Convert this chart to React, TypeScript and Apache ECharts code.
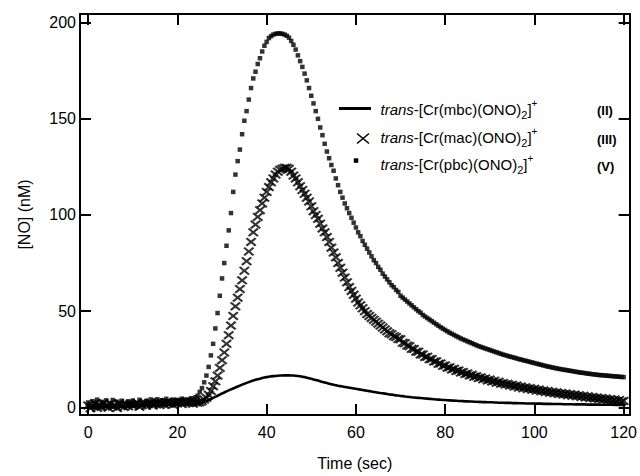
import React, { useEffect, useRef } from "react";
import * as echarts from "echarts";

// sampling grid of the recorded traces (seconds)
const T_START = 0;
const T_STEP = 0.5;

// trans-[Cr(mbc)(ONO)2]+ (II) — solid line, [NO] in nM
const mbcII = [
  0, -0.3, -0.5, -0.2, 0.1, -0.4, 0.2, -0.1, 0.3, 0,
  0.2, -0.2, 0.4, 0.1, 0.3, 0.5, 0.2, 0.4, 0.6, 0.3,
  0.5, 0.7, 0.4, 0.6, 0.8, 0.5, 0.7, 0.9, 0.6, 0.8,
  1.0, 0.8, 1.1, 0.9, 1.2, 1.0, 1.3, 1.1, 1.2, 1.4,
  1.3, 1.5, 1.4, 1.6, 1.5, 1.7, 1.6, 1.8, 1.7, 1.9,
  2.0, 2.4, 2.8, 3.3, 3.8, 4.3, 4.9, 5.4, 6.0, 6.6,
  7.2, 7.7, 8.3, 8.8, 9.3, 9.8, 10.3, 10.8, 11.3, 11.8,
  12.2, 12.7, 13.1, 13.5, 13.9, 14.3, 14.6, 14.9, 15.2, 15.5,
  15.7, 15.9, 16.1, 16.2, 16.3, 16.4, 16.5, 16.5, 16.6, 16.6,
  16.6, 16.5, 16.5, 16.4, 16.3, 16.1, 15.9, 15.7, 15.4, 15.1,
  14.8, 14.5, 14.2, 13.9, 13.5, 13.2, 12.9, 12.6, 12.3, 12.0,
  11.7, 11.5, 11.2, 11.0, 10.8, 10.6, 10.4, 10.2, 10.0, 9.8,
  9.6, 9.4, 9.2, 9.0, 8.8, 8.6, 8.4, 8.2, 8.0, 7.8,
  7.6, 7.4, 7.3, 7.1, 6.9, 6.7, 6.6, 6.4, 6.2, 6.1,
  5.9, 5.8, 5.6, 5.5, 5.4, 5.2, 5.1, 5.0, 4.9, 4.8,
  4.7, 4.6, 4.5, 4.4, 4.3, 4.2, 4.1, 4.0, 3.9, 3.8,
  3.8, 3.7, 3.6, 3.5, 3.5, 3.4, 3.3, 3.3, 3.2, 3.1,
  3.1, 3.0, 3.0, 2.9, 2.9, 2.8, 2.8, 2.7, 2.7, 2.6,
  2.6, 2.6, 2.5, 2.5, 2.4, 2.4, 2.4, 2.3, 2.3, 2.3,
  2.2, 2.2, 2.2, 2.1, 2.1, 2.1, 2.0, 2.0, 2.0, 2.0,
  1.9, 1.9, 1.9, 1.9, 1.8, 1.8, 1.8, 1.8, 1.7, 1.7,
  1.7, 1.7, 1.7, 1.6, 1.6, 1.6, 1.6, 1.6, 1.5, 1.5,
  1.5, 1.5, 1.5, 1.5, 1.4, 1.4, 1.4, 1.4, 1.4, 1.4,
  1.3, 1.3, 1.3, 1.3, 1.3, 1.3, 1.2, 1.2, 1.2, 1.2,
  1.2,
];

// trans-[Cr(mac)(ONO)2]+ (III) — × markers
const macIII = [
  1.0, -0.5, 0.8, 2.0, -0.3, 1.5, 0.2, 2.2, 0.6, -0.2,
  1.8, 0.4, 1.2, -0.4, 2.1, 0.9, 0.1, 1.6, 0.5, 1.9,
  0.7, 1.4, 2.3, 0.3, 1.1, 2.0, 0.8, 1.7, 2.5, 1.0,
  1.9, 2.6, 1.2, 2.2, 1.5, 2.8, 1.8, 2.4, 1.3, 2.7,
  2.0, 2.9, 1.7, 2.5, 3.0, 2.2, 2.8, 1.9, 2.6, 2.4,
  2.6, 3.2, 4.0, 5.0, 6.5, 8.5, 11, 13.5, 16.5, 20.5,
  24.5, 28.5, 33, 37.5, 42.5, 47.5, 52.5, 57, 61.5, 66,
  71, 76, 81, 86, 91, 95, 99, 102.5, 106, 109,
  112, 114.5, 117, 119, 121, 122.5, 123.5, 124, 124.5, 124.5,
  124, 122.5, 120.5, 119, 117, 115, 113, 111, 109, 107,
  104.5, 102, 100, 98, 95.5, 93, 91, 88.5, 86, 83,
  80.5, 78, 75, 72.5, 70, 67.5, 65, 62.5, 60.5, 58.5,
  56.5, 54.5, 53, 51.5, 50, 48.5, 47.5, 46.5, 45.5, 44.5,
  43.5, 42.5, 41.5, 40.5, 39.5, 38.5, 38, 37, 36.5, 35.5,
  35.4, 33.6, 33.3, 32.1, 31.8, 30.4, 30.3, 28.9, 28.9, 27.5,
  27.5, 26.2, 26.3, 25, 25.1, 23.8, 23.9, 22.6, 22.8, 21.6,
  21.8, 20.6, 20.8, 19.7, 20, 18.9, 19.2, 18.1, 18.4, 17.3,
  17.6, 16.6, 16.9, 15.9, 16.2, 15.2, 15.6, 14.6, 15, 14,
  14.4, 13.4, 13.8, 12.8, 13.3, 12.3, 12.7, 11.8, 12.2, 11.3,
  11.7, 10.8, 11.3, 10.3, 10.8, 9.9, 10.4, 9.5, 10, 9.1,
  9.6, 8.7, 9.2, 8.3, 8.8, 7.9, 8.5, 7.6, 8.1, 7.3,
  7.8, 6.9, 7.5, 6.6, 7.2, 6.3, 6.9, 6, 6.6, 5.7,
  6.3, 5.4, 6, 5.1, 5.7, 4.8, 5.4, 4.6, 5.1, 4.3,
  4.8, 4, 4.6, 3.7, 4.3, 3.5, 4, 3.2, 3.8, 3,
  3.3,
];

// trans-[Cr(pbc)(ONO)2]+ (V) — small squares
const pbcV = [
  2.5, 0.5, 3.2, 1.0, 4.0, 0.2, 2.8, 1.5, 3.6, 0.8,
  2.2, 3.8, 0.6, 2.9, 1.3, 3.4, 2.0, 0.9, 3.1, 1.7,
  3.5, 2.4, 1.2, 3.9, 2.7, 1.6, 3.3, 2.1, 4.1, 2.6,
  3.0, 4.2, 2.3, 3.6, 2.8, 4.4, 3.1, 2.5, 4.0, 3.4,
  3.8, 2.9, 4.5, 3.3, 4.1, 3.6, 4.7, 4.0, 5.2, 6.0,
  8, 10, 13, 16.5, 21, 27, 33, 41, 49, 58,
  67, 75, 84, 92, 101, 112, 121, 128, 134, 142,
  149, 154, 160, 166, 171, 174.5, 178.5, 181.5, 185, 188,
  190, 192, 193, 193.8, 194.2, 194.4, 194.4, 194.2, 193.8, 193.2,
  192.2, 190.5, 188.5, 186, 183, 180, 177, 173.5, 170, 166,
  162, 158, 154, 150, 145.5, 141.5, 137, 133, 129.5, 126,
  123, 119, 115.5, 112, 109, 106, 103.5, 101, 98.5, 96,
  93.5, 91, 89, 86.5, 84.5, 82.5, 80.5, 78.5, 76.5, 75,
  73, 71.5, 69.5, 68, 66.5, 65, 63.5, 62.5, 61, 60,
  58, 57, 56, 55, 54, 53, 52, 51, 50, 49.2,
  48, 47.2, 46.4, 45.6, 44.8, 44, 43.2, 42.4, 41.6, 40.9,
  40.2, 39.5, 38.8, 38.2, 37.6, 37, 36.4, 35.8, 35.3, 34.8,
  34.3, 33.8, 33.3, 32.8, 32.3, 31.8, 31.4, 31, 30.6, 30.2,
  29.8, 29.4, 29, 28.6, 28.2, 27.8, 27.4, 27.1, 26.7, 26.4,
  26.1, 25.8, 25.4, 25.1, 24.8, 24.5, 24.2, 23.9, 23.6, 23.3,
  23, 22.7, 22.4, 22.1, 21.8, 21.5, 21.2, 21, 20.7, 20.5,
  20.2, 20, 19.8, 19.6, 19.4, 19.2, 19, 18.8, 18.6, 18.4,
  18.2, 18, 17.9, 17.7, 17.5, 17.4, 17.2, 17.1, 16.9, 16.8,
  16.7, 16.6, 16.5, 16.4, 16.3, 16.2, 16.1, 16, 15.9, 15.8,
  15.7,
];

const X_TICKS = [0, 20, 40, 60, 80, 100, 120];
const Y_TICKS = [0, 50, 100, 150, 200];
const X_MIN = -1.83;
const X_MAX = 121.35;
const Y_MIN = -4;
const Y_MAX = 204.5;

const LEGEND = [
  { ligand: "mbc", label: "(II)" },
  { ligand: "mac", label: "(III)" },
  { ligand: "pbc", label: "(V)" },
];

const FONT = "'Liberation Sans', Arial, Helvetica, sans-serif";
const CROSS =
  "path://M0,1.5L1.5,0L5,3.5L8.5,0L10,1.5L6.5,5L10,8.5L8.5,10L5,6.5L1.5,10L0,8.5L3.5,5Z";

const toPairs = (vals: number[]) =>
  vals.map((v, i) => [T_START + i * T_STEP, v]);

export default function App() {
  const ref = useRef<HTMLDivElement>(null);

  useEffect(() => {
    if (!ref.current) return;
    const chart = echarts.init(ref.current, null, { renderer: "svg" });

    const axisLine = { show: true, onZero: false, lineStyle: { color: "#000", width: 2 } };
    const tick = (vals: number[]) => ({
      show: true,
      inside: true,
      length: 11,
      customValues: vals,
      lineStyle: { color: "#000", width: 2 },
    });
    const label = (vals: number[], margin: number) => ({
      show: true,
      customValues: vals,
      color: "#000",
      fontSize: 16,
      fontFamily: FONT,
      margin,
    });

    const richBase = { fontFamily: FONT, fontSize: 15, lineHeight: 22, verticalAlign: "middle", fill: "#000" };
    const rich = {
      i: { ...richBase, fontStyle: "italic" },
      n: { ...richBase },
      sub: { fontFamily: FONT, fontSize: 11, lineHeight: 11, verticalAlign: "bottom", fill: "#000" },
      sup: { fontFamily: FONT, fontSize: 10, lineHeight: 11, verticalAlign: "top", fill: "#000" },
    };
    const rowY = [109, 137.5, 164.5];

    const legendGraphics: any[] = [];
    LEGEND.forEach((item, k) => {
      legendGraphics.push({
        type: "text",
        x: 380.5,
        y: rowY[k],
        style: {
          text: `{i|trans}{n|-[Cr(${item.ligand})(ONO)}{sub|2}{n|]}{sup|+}`,
          rich,
          verticalAlign: "middle",
          align: "left",
        },
      });
      legendGraphics.push({
        type: "text",
        x: 597,
        y: rowY[k] + 1.5,
        style: {
          text: item.label,
          fontFamily: FONT,
          fontSize: 13,
          fontWeight: "bold",
          fill: "#000",
          verticalAlign: "middle",
          align: "left",
        },
      });
    });
    legendGraphics.push(
      { type: "line", shape: { x1: 339, y1: 108.5, x2: 371, y2: 108.5 }, style: { stroke: "#000", lineWidth: 3 } },
      { type: "line", shape: { x1: 357, y1: 133.5, x2: 369, y2: 143.5 }, style: { stroke: "#000", lineWidth: 1.6 } },
      { type: "line", shape: { x1: 357, y1: 143.5, x2: 369, y2: 133.5 }, style: { stroke: "#000", lineWidth: 1.6 } },
      { type: "rect", shape: { x: 353.8, y: 158.3, width: 4.5, height: 4.5 }, style: { fill: "#000" } }
    );

    chart.setOption({
      animation: false,
      backgroundColor: "#fff",
      grid: { left: 80, right: 8, top: 14, bottom: 57 },
      xAxis: [
        {
          type: "value",
          position: "bottom",
          min: X_MIN,
          max: X_MAX,
          axisLine,
          axisTick: tick(X_TICKS),
          axisLabel: label(X_TICKS, 9),
          splitLine: { show: false },
          name: "Time (sec)",
          nameLocation: "middle",
          nameGap: 40,
          nameTextStyle: { color: "#000", fontSize: 16, fontFamily: FONT },
        },
        {
          type: "value",
          position: "top",
          min: X_MIN,
          max: X_MAX,
          axisLine,
          axisTick: tick(X_TICKS),
          axisLabel: { show: false },
          splitLine: { show: false },
        },
      ],
      yAxis: [
        {
          type: "value",
          position: "left",
          min: Y_MIN,
          max: Y_MAX,
          axisLine,
          axisTick: tick(Y_TICKS),
          axisLabel: label(Y_TICKS, 4),
          splitLine: { show: false },
          name: "[NO] (nM)",
          nameLocation: "middle",
          nameGap: 48,
          nameTextStyle: { color: "#000", fontSize: 16, fontFamily: FONT },
        },
        {
          type: "value",
          position: "right",
          min: Y_MIN,
          max: Y_MAX,
          axisLine,
          axisTick: tick(Y_TICKS),
          axisLabel: { show: false },
          splitLine: { show: false },
        },
      ],
      series: [
        {
          name: "V",
          type: "scatter",
          data: toPairs(pbcV),
          symbol: "rect",
          symbolSize: 4.5,
          itemStyle: { color: "#000" },
          silent: true,
        },
        {
          name: "III",
          type: "scatter",
          data: toPairs(macIII),
          symbol: CROSS,
          symbolSize: [11, 9],
          itemStyle: { color: "#000" },
          silent: true,
        },
        {
          name: "II",
          type: "line",
          data: toPairs(mbcII),
          showSymbol: false,
          symbol: "none",
          lineStyle: { color: "#000", width: 2.6 },
          silent: true,
        },
      ],
      graphic: legendGraphics,
    });

    return () => chart.dispose();
  }, []);

  return (
    <div
      ref={ref}
      style={{ position: "fixed", left: 0, top: 0, width: 640, height: 476, background: "#fff" }}
    />
  );
}
